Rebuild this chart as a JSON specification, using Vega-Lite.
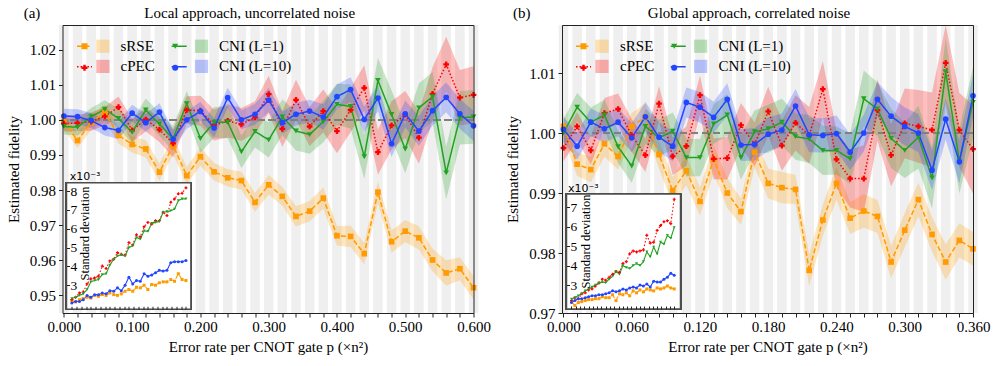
{
"$schema":"https://vega.github.io/schema/vega-lite/v6.json",
"padding":{"left":5.5,"top":5,"right":5,"bottom":5},
"background":"white",
"config":{
 "font":"Liberation Serif",
 "view":{"stroke":null},
 "axis":{"labelFont":"Liberation Serif","titleFont":"Liberation Serif","labelFontSize":15,"titleFontSize":15,"titleFontWeight":"normal","labelColor":"black","titleColor":"black","domainColor":"#222222","domainWidth":1,"tickColor":"#222222","grid":false},
 "legend":{"labelFont":"Liberation Serif","labelFontSize":15,"labelColor":"black","padding":0}
},
"datasets":{
"a":[
{"p":0,"m":"sRSE","f":0.9995,"e":0.00218},{"p":0.02,"m":"sRSE","f":0.9941,"e":0.00211},{"p":0.04,"m":"sRSE","f":0.9993,"e":0.00223},{"p":0.06,"m":"sRSE","f":1.002,"e":0.00229},{"p":0.08,"m":"sRSE","f":0.9956,"e":0.00236},{"p":0.1,"m":"sRSE","f":0.993,"e":0.00232},{"p":0.12,"m":"sRSE","f":0.9917,"e":0.00246},{"p":0.14,"m":"sRSE","f":0.9851,"e":0.00241},{"p":0.16,"m":"sRSE","f":0.9927,"e":0.0025},{"p":0.18,"m":"sRSE","f":0.9841,"e":0.00246},{"p":0.2,"m":"sRSE","f":0.9895,"e":0.00259},{"p":0.22,"m":"sRSE","f":0.9852,"e":0.0025},{"p":0.24,"m":"sRSE","f":0.9835,"e":0.00246},{"p":0.26,"m":"sRSE","f":0.9827,"e":0.00254},{"p":0.28,"m":"sRSE","f":0.9765,"e":0.00268},{"p":0.3,"m":"sRSE","f":0.9815,"e":0.00277},{"p":0.32,"m":"sRSE","f":0.9782,"e":0.00268},{"p":0.34,"m":"sRSE","f":0.9725,"e":0.00289},{"p":0.36,"m":"sRSE","f":0.974,"e":0.00286},{"p":0.38,"m":"sRSE","f":0.9777,"e":0.003},{"p":0.4,"m":"sRSE","f":0.967,"e":0.00277},{"p":0.42,"m":"sRSE","f":0.9668,"e":0.00304},{"p":0.44,"m":"sRSE","f":0.9619,"e":0.003},{"p":0.46,"m":"sRSE","f":0.9794,"e":0.00313},{"p":0.48,"m":"sRSE","f":0.9653,"e":0.00318},{"p":0.5,"m":"sRSE","f":0.9683,"e":0.00318},{"p":0.52,"m":"sRSE","f":0.9664,"e":0.0033},{"p":0.54,"m":"sRSE","f":0.9601,"e":0.00321},{"p":0.56,"m":"sRSE","f":0.9564,"e":0.00361},{"p":0.58,"m":"sRSE","f":0.9576,"e":0.0033},{"p":0.6,"m":"sRSE","f":0.9522,"e":0.00325},
{"p":0,"m":"cPEC","f":0.9989,"e":0.00223},{"p":0.02,"m":"cPEC","f":0.9991,"e":0.00236},{"p":0.04,"m":"cPEC","f":0.9995,"e":0.00259},{"p":0.06,"m":"cPEC","f":1.001,"e":0.00264},{"p":0.08,"m":"cPEC","f":1.0036,"e":0.00307},{"p":0.1,"m":"cPEC","f":0.997,"e":0.00334},{"p":0.12,"m":"cPEC","f":1.0001,"e":0.00339},{"p":0.14,"m":"cPEC","f":0.9972,"e":0.00348},{"p":0.16,"m":"cPEC","f":0.9933,"e":0.00402},{"p":0.18,"m":"cPEC","f":1.0028,"e":0.00389},{"p":0.2,"m":"cPEC","f":1.0026,"e":0.00429},{"p":0.22,"m":"cPEC","f":0.9985,"e":0.00438},{"p":0.24,"m":"cPEC","f":0.9997,"e":0.00473},{"p":0.26,"m":"cPEC","f":0.9987,"e":0.00464},{"p":0.28,"m":"cPEC","f":1.0007,"e":0.00461},{"p":0.3,"m":"cPEC","f":1.0073,"e":0.00527},{"p":0.32,"m":"cPEC","f":0.9974,"e":0.00514},{"p":0.34,"m":"cPEC","f":1.0057,"e":0.00568},{"p":0.36,"m":"cPEC","f":0.9981,"e":0.00557},{"p":0.38,"m":"cPEC","f":1.0025,"e":0.00611},{"p":0.4,"m":"cPEC","f":0.9968,"e":0.00634},{"p":0.42,"m":"cPEC","f":1.0028,"e":0.00625},{"p":0.44,"m":"cPEC","f":1.0091,"e":0.00643},{"p":0.46,"m":"cPEC","f":0.9908,"e":0.00643},{"p":0.48,"m":"cPEC","f":0.9984,"e":0.00688},{"p":0.5,"m":"cPEC","f":1.0015,"e":0.0067},{"p":0.52,"m":"cPEC","f":0.9949,"e":0.00741},{"p":0.54,"m":"cPEC","f":1.0074,"e":0.00759},{"p":0.56,"m":"cPEC","f":1.0158,"e":0.00786},{"p":0.58,"m":"cPEC","f":1.0063,"e":0.00789},{"p":0.6,"m":"cPEC","f":1.0071,"e":0.00818},
{"p":0,"m":"CNI (L=1)","f":0.9981,"e":0.00229},{"p":0.02,"m":"CNI (L=1)","f":0.9979,"e":0.00236},{"p":0.04,"m":"CNI (L=1)","f":1.0009,"e":0.00246},{"p":0.06,"m":"CNI (L=1)","f":1.003,"e":0.00254},{"p":0.08,"m":"CNI (L=1)","f":1.0004,"e":0.00277},{"p":0.1,"m":"CNI (L=1)","f":0.9965,"e":0.00318},{"p":0.12,"m":"CNI (L=1)","f":1.0028,"e":0.00325},{"p":0.14,"m":"CNI (L=1)","f":0.9988,"e":0.0033},{"p":0.16,"m":"CNI (L=1)","f":0.9946,"e":0.00357},{"p":0.18,"m":"CNI (L=1)","f":1.0046,"e":0.00361},{"p":0.2,"m":"CNI (L=1)","f":0.9947,"e":0.00407},{"p":0.22,"m":"CNI (L=1)","f":0.9993,"e":0.00438},{"p":0.24,"m":"CNI (L=1)","f":0.9993,"e":0.00455},{"p":0.26,"m":"CNI (L=1)","f":0.9909,"e":0.00461},{"p":0.28,"m":"CNI (L=1)","f":0.9967,"e":0.00455},{"p":0.3,"m":"CNI (L=1)","f":0.9943,"e":0.005},{"p":0.32,"m":"CNI (L=1)","f":1.0008,"e":0.00509},{"p":0.34,"m":"CNI (L=1)","f":0.9968,"e":0.00554},{"p":0.36,"m":"CNI (L=1)","f":0.9958,"e":0.00545},{"p":0.38,"m":"CNI (L=1)","f":0.9995,"e":0.00589},{"p":0.4,"m":"CNI (L=1)","f":1.0044,"e":0.00586},{"p":0.42,"m":"CNI (L=1)","f":1.0038,"e":0.00629},{"p":0.44,"m":"CNI (L=1)","f":0.9895,"e":0.00634},{"p":0.46,"m":"CNI (L=1)","f":1.0112,"e":0.00639},{"p":0.48,"m":"CNI (L=1)","f":1.0015,"e":0.00688},{"p":0.5,"m":"CNI (L=1)","f":0.9917,"e":0.00691},{"p":0.52,"m":"CNI (L=1)","f":1.0034,"e":0.00696},{"p":0.54,"m":"CNI (L=1)","f":1.0066,"e":0.00705},{"p":0.56,"m":"CNI (L=1)","f":0.9849,"e":0.0075},{"p":0.58,"m":"CNI (L=1)","f":1.0006,"e":0.00759},{"p":0.6,"m":"CNI (L=1)","f":1.0008,"e":0.00759},
{"p":0,"m":"CNI (L=10)","f":1.0011,"e":0.00205},{"p":0.02,"m":"CNI (L=10)","f":1.0009,"e":0.00214},{"p":0.04,"m":"CNI (L=10)","f":0.9998,"e":0.00214},{"p":0.06,"m":"CNI (L=10)","f":0.9978,"e":0.00223},{"p":0.08,"m":"CNI (L=10)","f":0.997,"e":0.00246},{"p":0.1,"m":"CNI (L=10)","f":1.0019,"e":0.00236},{"p":0.12,"m":"CNI (L=10)","f":0.9992,"e":0.0025},{"p":0.14,"m":"CNI (L=10)","f":1.0022,"e":0.0025},{"p":0.16,"m":"CNI (L=10)","f":0.9945,"e":0.00259},{"p":0.18,"m":"CNI (L=10)","f":1.0,"e":0.00254},{"p":0.2,"m":"CNI (L=10)","f":1.0024,"e":0.00271},{"p":0.22,"m":"CNI (L=10)","f":0.9977,"e":0.00268},{"p":0.24,"m":"CNI (L=10)","f":1.0063,"e":0.00286},{"p":0.26,"m":"CNI (L=10)","f":1.0,"e":0.00271},{"p":0.28,"m":"CNI (L=10)","f":1.0016,"e":0.003},{"p":0.3,"m":"CNI (L=10)","f":1.0056,"e":0.00343},{"p":0.32,"m":"CNI (L=10)","f":0.9992,"e":0.00307},{"p":0.34,"m":"CNI (L=10)","f":1.0016,"e":0.00325},{"p":0.36,"m":"CNI (L=10)","f":1.0025,"e":0.00321},{"p":0.38,"m":"CNI (L=10)","f":1.0008,"e":0.00361},{"p":0.4,"m":"CNI (L=10)","f":1.0066,"e":0.00348},{"p":0.42,"m":"CNI (L=10)","f":1.0086,"e":0.00354},{"p":0.44,"m":"CNI (L=10)","f":1.0001,"e":0.00366},{"p":0.46,"m":"CNI (L=10)","f":1.0062,"e":0.00379},{"p":0.48,"m":"CNI (L=10)","f":0.9932,"e":0.00375},{"p":0.5,"m":"CNI (L=10)","f":1.0017,"e":0.00379},{"p":0.52,"m":"CNI (L=10)","f":0.9968,"e":0.0042},{"p":0.54,"m":"CNI (L=10)","f":1.0026,"e":0.00425},{"p":0.56,"m":"CNI (L=10)","f":1.0064,"e":0.00425},{"p":0.58,"m":"CNI (L=10)","f":1.0017,"e":0.00425},{"p":0.6,"m":"CNI (L=10)","f":0.9983,"e":0.00432}
],
"b":[
{"p":0,"m":"sRSE","f":1.0011,"e":0.00215},{"p":0.012,"m":"sRSE","f":0.9948,"e":0.00195},{"p":0.024,"m":"sRSE","f":0.9939,"e":0.0021},{"p":0.036,"m":"sRSE","f":0.9982,"e":0.00215},{"p":0.048,"m":"sRSE","f":0.9961,"e":0.0022},{"p":0.06,"m":"sRSE","f":1.0011,"e":0.00225},{"p":0.072,"m":"sRSE","f":1.0027,"e":0.00225},{"p":0.084,"m":"sRSE","f":0.9964,"e":0.0023},{"p":0.096,"m":"sRSE","f":0.9904,"e":0.0023},{"p":0.108,"m":"sRSE","f":0.9937,"e":0.0024},{"p":0.12,"m":"sRSE","f":0.9886,"e":0.00235},{"p":0.132,"m":"sRSE","f":0.9956,"e":0.00235},{"p":0.144,"m":"sRSE","f":0.99,"e":0.0025},{"p":0.156,"m":"sRSE","f":0.9869,"e":0.0022},{"p":0.168,"m":"sRSE","f":0.9968,"e":0.00255},{"p":0.18,"m":"sRSE","f":0.9916,"e":0.0025},{"p":0.192,"m":"sRSE","f":0.9909,"e":0.0026},{"p":0.204,"m":"sRSE","f":0.9906,"e":0.00245},{"p":0.216,"m":"sRSE","f":0.9771,"e":0.0027},{"p":0.228,"m":"sRSE","f":0.9855,"e":0.0026},{"p":0.24,"m":"sRSE","f":0.9916,"e":0.00275},{"p":0.252,"m":"sRSE","f":0.9858,"e":0.00265},{"p":0.264,"m":"sRSE","f":0.987,"e":0.0028},{"p":0.276,"m":"sRSE","f":0.9861,"e":0.00275},{"p":0.288,"m":"sRSE","f":0.9785,"e":0.0027},{"p":0.3,"m":"sRSE","f":0.9838,"e":0.00285},{"p":0.312,"m":"sRSE","f":0.9889,"e":0.0028},{"p":0.324,"m":"sRSE","f":0.9831,"e":0.00285},{"p":0.336,"m":"sRSE","f":0.9785,"e":0.00295},{"p":0.348,"m":"sRSE","f":0.9821,"e":0.00285},{"p":0.36,"m":"sRSE","f":0.9807,"e":0.0028},
{"p":0,"m":"cPEC","f":0.9975,"e":0.0022},{"p":0.012,"m":"cPEC","f":1.0011,"e":0.00235},{"p":0.024,"m":"cPEC","f":0.9971,"e":0.0023},{"p":0.036,"m":"cPEC","f":1.0033,"e":0.00255},{"p":0.048,"m":"cPEC","f":1.004,"e":0.0026},{"p":0.06,"m":"cPEC","f":0.9996,"e":0.00275},{"p":0.072,"m":"cPEC","f":0.9963,"e":0.0028},{"p":0.084,"m":"cPEC","f":1.0049,"e":0.00295},{"p":0.096,"m":"cPEC","f":0.9961,"e":0.0031},{"p":0.108,"m":"cPEC","f":0.9978,"e":0.0033},{"p":0.12,"m":"cPEC","f":1.0063,"e":0.00325},{"p":0.132,"m":"cPEC","f":0.9957,"e":0.0034},{"p":0.144,"m":"cPEC","f":0.9958,"e":0.00355},{"p":0.156,"m":"cPEC","f":1.0013,"e":0.0037},{"p":0.168,"m":"cPEC","f":0.9981,"e":0.00365},{"p":0.18,"m":"cPEC","f":1.0036,"e":0.0041},{"p":0.192,"m":"cPEC","f":0.9979,"e":0.0042},{"p":0.204,"m":"cPEC","f":1.0017,"e":0.0046},{"p":0.216,"m":"cPEC","f":0.9996,"e":0.00475},{"p":0.228,"m":"cPEC","f":1.0073,"e":0.0047},{"p":0.24,"m":"cPEC","f":0.9956,"e":0.00475},{"p":0.252,"m":"cPEC","f":0.9924,"e":0.0048},{"p":0.264,"m":"cPEC","f":0.9924,"e":0.00555},{"p":0.276,"m":"cPEC","f":1.0038,"e":0.00515},{"p":0.288,"m":"cPEC","f":0.9963,"e":0.0052},{"p":0.3,"m":"cPEC","f":1.0016,"e":0.0058},{"p":0.312,"m":"cPEC","f":1.0011,"e":0.00605},{"p":0.324,"m":"cPEC","f":1.0005,"e":0.00625},{"p":0.336,"m":"cPEC","f":1.0117,"e":0.0063},{"p":0.348,"m":"cPEC","f":1.0005,"e":0.00615},{"p":0.36,"m":"cPEC","f":0.9973,"e":0.0074},
{"p":0,"m":"CNI (L=1)","f":1.0,"e":0.00228},{"p":0.012,"m":"CNI (L=1)","f":1.0043,"e":0.00235},{"p":0.024,"m":"CNI (L=1)","f":1.0018,"e":0.00245},{"p":0.036,"m":"CNI (L=1)","f":1.003,"e":0.00255},{"p":0.048,"m":"CNI (L=1)","f":0.9977,"e":0.0027},{"p":0.06,"m":"CNI (L=1)","f":0.9945,"e":0.0028},{"p":0.072,"m":"CNI (L=1)","f":1.0011,"e":0.0029},{"p":0.084,"m":"CNI (L=1)","f":0.9992,"e":0.003},{"p":0.096,"m":"CNI (L=1)","f":1.0003,"e":0.0031},{"p":0.108,"m":"CNI (L=1)","f":0.9959,"e":0.00315},{"p":0.12,"m":"CNI (L=1)","f":0.9959,"e":0.00312},{"p":0.132,"m":"CNI (L=1)","f":1.0015,"e":0.0033},{"p":0.144,"m":"CNI (L=1)","f":1.003,"e":0.00345},{"p":0.156,"m":"CNI (L=1)","f":0.9959,"e":0.0037},{"p":0.168,"m":"CNI (L=1)","f":1.0002,"e":0.00355},{"p":0.18,"m":"CNI (L=1)","f":1.0007,"e":0.004},{"p":0.192,"m":"CNI (L=1)","f":1.0018,"e":0.0039},{"p":0.204,"m":"CNI (L=1)","f":0.9994,"e":0.00385},{"p":0.216,"m":"CNI (L=1)","f":0.999,"e":0.004},{"p":0.228,"m":"CNI (L=1)","f":0.9971,"e":0.0041},{"p":0.24,"m":"CNI (L=1)","f":0.9971,"e":0.004},{"p":0.252,"m":"CNI (L=1)","f":0.9957,"e":0.0042},{"p":0.264,"m":"CNI (L=1)","f":1.0057,"e":0.0047},{"p":0.276,"m":"CNI (L=1)","f":1.004,"e":0.00445},{"p":0.288,"m":"CNI (L=1)","f":0.9991,"e":0.00495},{"p":0.3,"m":"CNI (L=1)","f":0.9971,"e":0.0046},{"p":0.312,"m":"CNI (L=1)","f":0.9993,"e":0.0052},{"p":0.324,"m":"CNI (L=1)","f":0.9925,"e":0.0051},{"p":0.336,"m":"CNI (L=1)","f":1.0102,"e":0.00555},{"p":0.348,"m":"CNI (L=1)","f":0.9953,"e":0.0054},{"p":0.36,"m":"CNI (L=1)","f":1.0051,"e":0.00595},
{"p":0,"m":"CNI (L=10)","f":1.0006,"e":0.0021},{"p":0.012,"m":"CNI (L=10)","f":0.9978,"e":0.0022},{"p":0.024,"m":"CNI (L=10)","f":1.0018,"e":0.0023},{"p":0.036,"m":"CNI (L=10)","f":1.0007,"e":0.0023},{"p":0.048,"m":"CNI (L=10)","f":1.0018,"e":0.00235},{"p":0.06,"m":"CNI (L=10)","f":0.9992,"e":0.0024},{"p":0.072,"m":"CNI (L=10)","f":1.0027,"e":0.00245},{"p":0.084,"m":"CNI (L=10)","f":0.9993,"e":0.00245},{"p":0.096,"m":"CNI (L=10)","f":0.9978,"e":0.0025},{"p":0.108,"m":"CNI (L=10)","f":1.0051,"e":0.0025},{"p":0.12,"m":"CNI (L=10)","f":1.0043,"e":0.00255},{"p":0.132,"m":"CNI (L=10)","f":1.0026,"e":0.0026},{"p":0.144,"m":"CNI (L=10)","f":1.0056,"e":0.0027},{"p":0.156,"m":"CNI (L=10)","f":0.998,"e":0.00265},{"p":0.168,"m":"CNI (L=10)","f":0.9981,"e":0.0027},{"p":0.18,"m":"CNI (L=10)","f":0.9998,"e":0.0028},{"p":0.192,"m":"CNI (L=10)","f":1.0005,"e":0.00275},{"p":0.204,"m":"CNI (L=10)","f":1.0045,"e":0.00285},{"p":0.216,"m":"CNI (L=10)","f":0.9997,"e":0.0029},{"p":0.228,"m":"CNI (L=10)","f":0.9996,"e":0.00285},{"p":0.24,"m":"CNI (L=10)","f":0.9999,"e":0.003},{"p":0.252,"m":"CNI (L=10)","f":0.9968,"e":0.00295},{"p":0.264,"m":"CNI (L=10)","f":1.0,"e":0.00305},{"p":0.276,"m":"CNI (L=10)","f":1.0056,"e":0.0029},{"p":0.288,"m":"CNI (L=10)","f":1.0028,"e":0.0032},{"p":0.3,"m":"CNI (L=10)","f":1.0011,"e":0.00315},{"p":0.312,"m":"CNI (L=10)","f":1.0,"e":0.00315},{"p":0.324,"m":"CNI (L=10)","f":0.9938,"e":0.0033},{"p":0.336,"m":"CNI (L=10)","f":1.0023,"e":0.0034},{"p":0.348,"m":"CNI (L=10)","f":0.9952,"e":0.0036},{"p":0.36,"m":"CNI (L=10)","f":1.0062,"e":0.0035}
]
},
"spacing":14.5,
"resolve":{"scale":{"color":"independent","stroke":"independent","fill":"independent","shape":"independent","strokeDash":"independent"}},
"hconcat":[
{
"width":411,"height":288,
"data":{"name":"a"},
"layer":[
 {"layer":[
   {"transform":[{"filter":"datum.m==='sRSE'"}],"mark":{"type":"rule","color":"#efefef","strokeWidth":9.5},
    "encoding":{"x":{"field":"p","type":"quantitative","scale":{"domain":[-0.002,0.6],"nice":false,"zero":false},"axis":{"orient":"top","zindex":1,"domain":true,"ticks":false,"labels":false,"title":"Local approach, uncorrelated noise","titleX":186.7,"titleY":-7.5,"titleAlign":"center","titleBaseline":"alphabetic"}}}},
   {"mark":{"type":"errorband","band":{"opacity":0.25}},
    "encoding":{"x":{"field":"p","type":"quantitative","axis":null},"y":{"field":"f","type":"quantitative","axis":null},"yError":{"field":"e"},
     "color":{"field":"m","type":"nominal","scale":{"domain":["sRSE","cPEC","CNI (L=1)","CNI (L=10)"],"range":["#ff9a00","#ff0000","#23a123","#2245ff"]},
      "legend":{"orient":"none","legendX":32.9,"legendY":13.5,"columns":2,"symbolType":"square","symbolSize":175,"symbolOpacity":0.3,"symbolStrokeWidth":0,"labelOffset":10.1,"columnPadding":38.6,"rowPadding":4.4,"title":null}}}},
   {"mark":{"type":"rule","color":"#808080","strokeDash":[7,4],"strokeWidth":1.5},"encoding":{"y":{"datum":1,"type":"quantitative","axis":{"orient":"right","zindex":1,"domain":true,"ticks":false,"labels":false,"title":null}}}},
   {"mark":{"type":"line","strokeWidth":1.5},
    "encoding":{"x":{"field":"p","type":"quantitative","axis":{"orient":"bottom","zindex":1,"values":[0,0.02,0.04,0.06,0.08,0.1,0.12,0.14,0.16,0.18,0.2,0.22,0.24,0.26,0.28,0.3,0.32,0.34,0.36,0.38,0.4,0.42,0.44,0.46,0.48,0.5,0.52,0.54,0.56,0.58,0.6],"labelExpr":"abs(datum.value*10-round(datum.value*10))<1e-6 ? format(datum.value,'.3f') : ''","labelOverlap":false,"labelFlush":false,"tickSize":4,"labelPadding":2,"title":"Error rate per CNOT gate p (×n²)","titlePadding":5}},
     "y":{"field":"f","type":"quantitative","scale":{"domain":[0.945,1.027],"nice":false,"zero":false},"axis":{"orient":"left","zindex":1,"values":[0.95,0.96,0.97,0.98,0.99,1,1.01,1.02],"format":".2f","tickSize":4,"labelPadding":3,"title":"Estimated fidelity","titlePadding":8}},
     "stroke":{"field":"m","type":"nominal","scale":{"domain":["sRSE","cPEC","CNI (L=1)","CNI (L=10)","_1"],"range":["#ff9a00","#ff0000","#23a123","#2245ff","transparent"]},
      "legend":{"orient":"none","legendX":13.5,"legendY":12.5,"columns":2,"symbolType":"stroke","symbolSize":225,"symbolStrokeWidth":1.5,"labelExpr":"''","labelOffset":0,"columnPadding":73.7,"rowPadding":3.7,"title":null,"values":["sRSE","cPEC","CNI (L=1)","CNI (L=10)"]}},
     "strokeDash":{"field":"m","type":"nominal","scale":{"domain":["sRSE","cPEC","CNI (L=1)","CNI (L=10)","_1"],"range":[[5,2.5],[1.5,2],[1,0],[1,0],[1,0]]},
      "legend":{"orient":"none","legendX":13.5,"legendY":12.5,"columns":2,"symbolType":"stroke","symbolSize":225,"symbolStrokeWidth":1.5,"labelExpr":"''","labelOffset":0,"columnPadding":73.7,"rowPadding":3.7,"title":null,"values":["sRSE","cPEC","CNI (L=1)","CNI (L=10)"]}}}},
   {"mark":{"type":"point","filled":true,"opacity":1,"size":32},
    "encoding":{"x":{"field":"p","type":"quantitative","axis":{"orient":"top","zindex":1,"domain":false,"ticks":false,"labels":false,"title":"(a)","titleX":-39.3,"titleY":-7.5,"titleAlign":"left","titleBaseline":"alphabetic"}},"y":{"field":"f","type":"quantitative","axis":null},
     "fill":{"field":"m","type":"nominal","scale":{"domain":["sRSE","cPEC","CNI (L=1)","CNI (L=10)","_2"],"range":["#ff9a00","#ff0000","#23a123","#2245ff","transparent"]},
      "legend":{"orient":"none","legendX":14.5,"legendY":13.5,"columns":2,"symbolSize":36,"symbolStrokeWidth":0,"labelExpr":"''","labelOffset":0,"columnPadding":75.7,"rowPadding":5.7,"title":null,"values":["sRSE","cPEC","CNI (L=1)","CNI (L=10)"]}},
     "shape":{"field":"m","type":"nominal","scale":{"domain":["sRSE","cPEC","CNI (L=1)","CNI (L=10)","_2"],"range":["square","cross","triangle-down","circle","circle"]},
      "legend":{"orient":"none","legendX":14.5,"legendY":13.5,"columns":2,"symbolSize":36,"symbolStrokeWidth":0,"labelExpr":"''","labelOffset":0,"columnPadding":75.7,"rowPadding":5.7,"title":null,"values":["sRSE","cPEC","CNI (L=1)","CNI (L=10)"]}}}}
 ],"resolve":{"axis":{"x":"independent","y":"independent"}}},
 {"layer":[
   {"mark":{"type":"rect","fill":"white","stroke":"#4d4d4d","strokeWidth":1.5},
    "encoding":{"x":{"datum":-0.028,"type":"quantitative","scale":{"domain":[-0.028,0.626],"range":[4,128.4],"nice":false,"zero":false},"axis":{"orient":"top","zindex":2,"offset":-157.7,"domain":false,"ticks":false,"labels":false,"title":"x10⁻³","titleFont":"DejaVu Sans","titleFontSize":11,"titleX":6.7,"titleY":-1,"titleAlign":"left","titleBaseline":"bottom"}},"x2":{"datum":0.626},
     "y":{"datum":0.00172,"type":"quantitative","scale":{"domain":[0.00172,0.00845],"range":[284.3,157.7],"nice":false,"zero":false},"axis":null},"y2":{"datum":0.00845}}},
   {"mark":{"type":"line","strokeWidth":1.1},
    "encoding":{"x":{"field":"p","type":"quantitative","axis":{"orient":"bottom","zindex":2,"offset":-3.7,"domain":false,"labels":false,"tickSize":-3,"values":[0,0.025,0.05,0.075,0.1,0.125,0.15,0.175,0.2,0.225,0.25,0.275,0.3,0.325,0.35,0.375,0.4,0.425,0.45,0.475,0.5,0.525,0.55,0.575,0.6],"title":null}},
     "y":{"field":"e","type":"quantitative","axis":{"orient":"left","zindex":2,"offset":-4,"domain":false,"values":[0.003,0.004,0.005,0.006,0.007,0.008],"labelExpr":"format(round(datum.value*1000),'d')","labelAlign":"left","tickSize":-3,"labelPadding":-0.5,"labelFontSize":13.5,"title":"Standard deviation","titleFontSize":12.5,"titleX":17.7,"titleY":208,"titleAngle":270,"titleBaseline":"middle","titleAlign":"center"}},
     "stroke":{"field":"m","type":"nominal","scale":{"domain":["sRSE","cPEC","CNI (L=1)","CNI (L=10)","_1"],"range":["#ff9a00","#ff0000","#23a123","#2245ff","transparent"]},"legend":null},
     "strokeDash":{"field":"m","type":"nominal","scale":{"domain":["sRSE","cPEC","CNI (L=1)","CNI (L=10)","_1"],"range":[[5,2.5],[1.5,2],[1,0],[1,0],[1,0]]},"legend":null}}},
   {"mark":{"type":"point","filled":true,"opacity":1,"size":9},
    "encoding":{"x":{"field":"p","type":"quantitative","axis":null},"y":{"field":"e","type":"quantitative","axis":null},
     "fill":{"field":"m","type":"nominal","scale":{"domain":["sRSE","cPEC","CNI (L=1)","CNI (L=10)","_2"],"range":["#ff9a00","#ff0000","#23a123","#2245ff","transparent"]},"legend":null},
     "shape":{"field":"m","type":"nominal","scale":{"domain":["sRSE","cPEC","CNI (L=1)","CNI (L=10)","_2"],"range":["square","cross","triangle-down","circle","circle"]},"legend":null}}}
 ],"resolve":{"axis":{"x":"independent","y":"independent"}}}
],
"resolve":{"scale":{"x":"independent","y":"independent"},"axis":{"x":"independent","y":"independent"}}
},
{
"width":411,"height":288,
"data":{"name":"b"},
"layer":[
 {"layer":[
   {"transform":[{"filter":"datum.m==='sRSE'"}],"mark":{"type":"rule","color":"#efefef","strokeWidth":9.5},
    "encoding":{"x":{"field":"p","type":"quantitative","scale":{"domain":[-0.0013,0.36],"nice":false,"zero":false},"axis":{"orient":"top","zindex":1,"domain":true,"ticks":false,"labels":false,"title":"Global approach, correlated noise","titleX":186.5,"titleY":-7.5,"titleAlign":"center","titleBaseline":"alphabetic"}}}},
   {"mark":{"type":"errorband","band":{"opacity":0.25}},
    "encoding":{"x":{"field":"p","type":"quantitative","axis":null},"y":{"field":"f","type":"quantitative","axis":null},"yError":{"field":"e"},
     "color":{"field":"m","type":"nominal","scale":{"domain":["sRSE","cPEC","CNI (L=1)","CNI (L=10)"],"range":["#ff9a00","#ff0000","#23a123","#2245ff"]},
      "legend":{"orient":"none","legendX":32.5,"legendY":13.5,"columns":2,"symbolType":"square","symbolSize":175,"symbolOpacity":0.3,"symbolStrokeWidth":0,"labelOffset":10.5,"columnPadding":38.6,"rowPadding":4.4,"title":null}}}},
   {"mark":{"type":"rule","color":"#808080","strokeDash":[7,4],"strokeWidth":1.5},"encoding":{"y":{"datum":1,"type":"quantitative","axis":{"orient":"right","zindex":1,"domain":true,"ticks":false,"labels":false,"title":null}}}},
   {"mark":{"type":"line","strokeWidth":1.5},
    "encoding":{"x":{"field":"p","type":"quantitative","axis":{"orient":"bottom","zindex":1,"values":[0,0.012,0.024,0.036,0.048,0.06,0.072,0.084,0.096,0.108,0.12,0.132,0.144,0.156,0.168,0.18,0.192,0.204,0.216,0.228,0.24,0.252,0.264,0.276,0.288,0.3,0.312,0.324,0.336,0.348,0.36],"labelExpr":"abs(datum.value/0.06-round(datum.value/0.06))<1e-6 ? format(datum.value,'.3f') : ''","labelOverlap":false,"labelFlush":false,"tickSize":4,"labelPadding":2,"title":"Error rate per CNOT gate p (×n²)","titlePadding":5}},
     "y":{"field":"f","type":"quantitative","scale":{"domain":[0.97,1.018],"nice":false,"zero":false},"axis":{"orient":"left","zindex":1,"values":[0.97,0.98,0.99,1,1.01],"format":".2f","tickSize":4,"labelPadding":3,"title":"Estimated fidelity","titlePadding":8}},
     "stroke":{"field":"m","type":"nominal","scale":{"domain":["sRSE","cPEC","CNI (L=1)","CNI (L=10)","_1"],"range":["#ff9a00","#ff0000","#23a123","#2245ff","transparent"]},
      "legend":{"orient":"none","legendX":13,"legendY":12.5,"columns":2,"symbolType":"stroke","symbolSize":225,"symbolStrokeWidth":1.5,"labelExpr":"''","labelOffset":0,"columnPadding":73.7,"rowPadding":3.7,"title":null,"values":["sRSE","cPEC","CNI (L=1)","CNI (L=10)"]}},
     "strokeDash":{"field":"m","type":"nominal","scale":{"domain":["sRSE","cPEC","CNI (L=1)","CNI (L=10)","_1"],"range":[[5,2.5],[1.5,2],[1,0],[1,0],[1,0]]},
      "legend":{"orient":"none","legendX":13,"legendY":12.5,"columns":2,"symbolType":"stroke","symbolSize":225,"symbolStrokeWidth":1.5,"labelExpr":"''","labelOffset":0,"columnPadding":73.7,"rowPadding":3.7,"title":null,"values":["sRSE","cPEC","CNI (L=1)","CNI (L=10)"]}}}},
   {"mark":{"type":"point","filled":true,"opacity":1,"size":32},
    "encoding":{"x":{"field":"p","type":"quantitative","axis":{"orient":"top","zindex":1,"domain":false,"ticks":false,"labels":false,"title":"(b)","titleX":-49.5,"titleY":-7.5,"titleAlign":"left","titleBaseline":"alphabetic"}},"y":{"field":"f","type":"quantitative","axis":null},
     "fill":{"field":"m","type":"nominal","scale":{"domain":["sRSE","cPEC","CNI (L=1)","CNI (L=10)","_2"],"range":["#ff9a00","#ff0000","#23a123","#2245ff","transparent"]},
      "legend":{"orient":"none","legendX":14,"legendY":13.5,"columns":2,"symbolSize":36,"symbolStrokeWidth":0,"labelExpr":"''","labelOffset":0,"columnPadding":75.7,"rowPadding":5.7,"title":null,"values":["sRSE","cPEC","CNI (L=1)","CNI (L=10)"]}},
     "shape":{"field":"m","type":"nominal","scale":{"domain":["sRSE","cPEC","CNI (L=1)","CNI (L=10)","_2"],"range":["square","cross","triangle-down","circle","circle"]},
      "legend":{"orient":"none","legendX":14,"legendY":13.5,"columns":2,"symbolSize":36,"symbolStrokeWidth":0,"labelExpr":"''","labelOffset":0,"columnPadding":75.7,"rowPadding":5.7,"title":null,"values":["sRSE","cPEC","CNI (L=1)","CNI (L=10)"]}}}}
 ],"resolve":{"axis":{"x":"independent","y":"independent"}}},
 {"layer":[
   {"mark":{"type":"rect","fill":"white","stroke":"#4d4d4d","strokeWidth":1.5},
    "encoding":{"x":{"datum":-0.0175,"type":"quantitative","scale":{"domain":[-0.0175,0.382],"range":[4.5,118.5],"nice":false,"zero":false},"axis":{"orient":"top","zindex":2,"offset":-169,"domain":false,"ticks":false,"labels":false,"title":"x10⁻³","titleFont":"DejaVu Sans","titleFontSize":11,"titleX":5.5,"titleY":-1,"titleAlign":"left","titleBaseline":"bottom"}},"x2":{"datum":0.382},
     "y":{"datum":0.00177,"type":"quantitative","scale":{"domain":[0.00177,0.00767],"range":[284,169],"nice":false,"zero":false},"axis":null},"y2":{"datum":0.00767}}},
   {"mark":{"type":"line","strokeWidth":1.1},
    "encoding":{"x":{"field":"p","type":"quantitative","axis":{"orient":"bottom","zindex":2,"offset":-4,"domain":false,"labels":false,"tickSize":-3,"values":[0,0.015,0.03,0.045,0.06,0.075,0.09,0.105,0.12,0.135,0.15,0.165,0.18,0.195,0.21,0.225,0.24,0.255,0.27,0.285,0.3,0.315,0.33,0.345,0.36],"title":null}},
     "y":{"field":"e","type":"quantitative","axis":{"orient":"left","zindex":2,"offset":-4.5,"domain":false,"values":[0.003,0.004,0.005,0.006,0.007],"labelExpr":"format(round(datum.value*1000),'d')","labelAlign":"left","tickSize":-3,"labelPadding":-0.5,"labelFontSize":13.5,"title":"Standard deviation","titleFontSize":12.5,"titleX":19,"titleY":216,"titleAngle":270,"titleBaseline":"middle","titleAlign":"center"}},
     "stroke":{"field":"m","type":"nominal","scale":{"domain":["sRSE","cPEC","CNI (L=1)","CNI (L=10)","_1"],"range":["#ff9a00","#ff0000","#23a123","#2245ff","transparent"]},"legend":null},
     "strokeDash":{"field":"m","type":"nominal","scale":{"domain":["sRSE","cPEC","CNI (L=1)","CNI (L=10)","_1"],"range":[[5,2.5],[1.5,2],[1,0],[1,0],[1,0]]},"legend":null}}},
   {"mark":{"type":"point","filled":true,"opacity":1,"size":9},
    "encoding":{"x":{"field":"p","type":"quantitative","axis":null},"y":{"field":"e","type":"quantitative","axis":null},
     "fill":{"field":"m","type":"nominal","scale":{"domain":["sRSE","cPEC","CNI (L=1)","CNI (L=10)","_2"],"range":["#ff9a00","#ff0000","#23a123","#2245ff","transparent"]},"legend":null},
     "shape":{"field":"m","type":"nominal","scale":{"domain":["sRSE","cPEC","CNI (L=1)","CNI (L=10)","_2"],"range":["square","cross","triangle-down","circle","circle"]},"legend":null}}}
 ],"resolve":{"axis":{"x":"independent","y":"independent"}}}
],
"resolve":{"scale":{"x":"independent","y":"independent"},"axis":{"x":"independent","y":"independent"}}
}
]
}
